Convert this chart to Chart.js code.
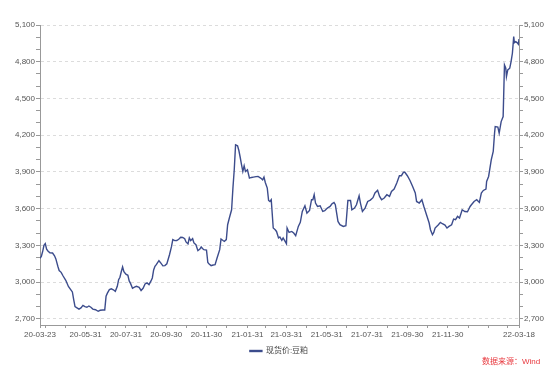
<!DOCTYPE html>
<html>
<head>
<meta charset="utf-8">
<script src="https://cdn.jsdelivr.net/npm/chart.js@4.4.0/dist/chart.umd.min.js"></script>
<style>
  html, body { margin: 0; padding: 0; background: #fff; }
  #wrap { position: relative; width: 558px; height: 374px; }
  #src { position: absolute; left: 482px; top: 356px; font: 8px 'Liberation Sans', 'Noto Sans CJK SC', sans-serif; color: #e8373d; line-height: 11px; white-space: nowrap; }
</style>
</head>
<body>
<div id="wrap">
  <canvas id="myChart" width="558" height="374"></canvas>
  <div id="src">数据来源：Wind</div>
</div>
<script>
// 现货价:豆粕 (yy-mm-dd, 元/吨)
const dates = [
  '20-03-23','20-03-25','20-03-27','20-03-29','20-03-31','20-04-02','20-04-04','20-04-07','20-04-11','20-04-14',
  '20-04-16','20-04-19','20-04-21','20-04-24','20-04-27','20-05-01','20-05-05','20-05-09','20-05-11','20-05-13',
  '20-05-15','20-05-18','20-05-21','20-05-24','20-05-27','20-05-30','20-06-02','20-06-05','20-06-08','20-06-11',
  '20-06-15','20-06-19','20-06-22','20-06-26','20-06-29','20-07-01','20-07-03','20-07-06','20-07-09','20-07-12',
  '20-07-15','20-07-18','20-07-20','20-07-22','20-07-24','20-07-26','20-07-28','20-07-31','20-08-03','20-08-05',
  '20-08-07','20-08-10','20-08-13','20-08-16','20-08-20','20-08-23','20-08-26','20-08-29','20-09-01','20-09-04',
  '20-09-07','20-09-09','20-09-11','20-09-13','20-09-15','20-09-17','20-09-19','20-09-22','20-09-25','20-09-28',
  '20-10-01','20-10-05','20-10-08','20-10-10','20-10-13','20-10-16','20-10-19','20-10-22','20-10-25','20-10-28',
  '20-10-30','20-11-02','20-11-04','20-11-06','20-11-09','20-11-11','20-11-14','20-11-17','20-11-20','20-11-22',
  '20-11-24','20-11-26','20-11-30','20-12-02','20-12-04','20-12-07','20-12-10','20-12-13','20-12-16','20-12-20',
  '20-12-22','20-12-25','20-12-27','20-12-30','21-01-01','21-01-04','21-01-07','21-01-09','21-01-11','21-01-13',
  '21-01-16','21-01-18','21-01-20','21-01-22','21-01-24','21-01-26','21-01-28','21-01-31','21-02-03','21-02-06',
  '21-02-09','21-02-13','21-02-16','21-02-20','21-02-23','21-02-25','21-02-27','21-03-02','21-03-04','21-03-06',
  '21-03-08','21-03-11','21-03-14','21-03-16','21-03-19','21-03-21','21-03-24','21-03-26','21-03-29','21-03-31',
  '21-04-01','21-04-04','21-04-08','21-04-11','21-04-14','21-04-18','21-04-21','21-04-24','21-04-28','21-05-01',
  '21-05-05','21-05-08','21-05-10','21-05-12','21-05-14','21-05-17','21-05-21','21-05-25','21-05-28','21-06-01',
  '21-06-05','21-06-08','21-06-11','21-06-13','21-06-15','21-06-17','21-06-20','21-06-25','21-06-29','21-07-02',
  '21-07-06','21-07-08','21-07-12','21-07-15','21-07-19','21-07-21','21-07-24','21-07-28','21-08-01','21-08-05',
  '21-08-09','21-08-12','21-08-16','21-08-19','21-08-22','21-08-26','21-08-30','21-09-03','21-09-06','21-09-10',
  '21-09-14','21-09-18','21-09-21','21-09-24','21-09-26','21-09-30','21-10-04','21-10-08','21-10-12','21-10-14',
  '21-10-18','21-10-22','21-10-25','21-10-29','21-11-02','21-11-04','21-11-07','21-11-09','21-11-11','21-11-16',
  '21-11-19','21-11-22','21-11-26','21-11-29','21-12-02','21-12-06','21-12-09','21-12-12','21-12-15','21-12-18',
  '21-12-22','21-12-26','21-12-30','22-01-03','22-01-05','22-01-09','22-01-13','22-01-17','22-01-20','22-01-23',
  '22-01-27','22-01-28','22-01-31','22-02-04','22-02-07','22-02-09','22-02-10','22-02-14','22-02-16','22-02-19',
  '22-02-22','22-02-24','22-02-26','22-02-27','22-03-01','22-03-04','22-03-06','22-03-08','22-03-10','22-03-11',
  '22-03-13','22-03-15','22-03-17','22-03-18'
];
const prices = [
  3195,3210,3250,3300,3314,3270,3255,3240,3238,3215,
  3190,3130,3095,3080,3050,3015,2965,2935,2920,2857,
  2800,2790,2780,2790,2810,2800,2795,2805,2795,2780,
  2775,2762,2770,2772,2772,2885,2910,2939,2945,2938,
  2925,2966,3020,3040,3085,3124,3085,3065,3056,3010,
  2990,2950,2960,2966,2958,2932,2950,2985,2994,2980,
  3010,3034,3100,3129,3143,3160,3175,3155,3133,3135,
  3150,3224,3290,3347,3339,3340,3350,3366,3365,3355,
  3328,3312,3361,3339,3355,3320,3306,3257,3270,3287,
  3275,3265,3262,3160,3148,3135,3140,3143,3197,3265,
  3352,3340,3333,3347,3469,3532,3591,3768,3918,4121,
  4113,4075,4020,3960,3904,3950,3904,3918,3850,3855,
  3858,3862,3863,3850,3836,3858,3814,3768,3667,3659,
  3673,3442,3428,3414,3361,3369,3341,3361,3333,3314,
  3442,3406,3414,3401,3379,3455,3488,3577,3624,3564,
  3586,3673,3673,3714,3646,3618,3624,3577,3583,3605,
  3618,3640,3651,3632,3564,3496,3469,3455,3461,3667,
  3667,3591,3605,3632,3705,3646,3577,3605,3659,3670,
  3690,3728,3750,3700,3673,3687,3714,3700,3741,3760,
  3809,3869,3869,3896,3899,3869,3830,3781,3728,3659,
  3646,3673,3618,3551,3483,3428,3387,3406,3442,3469,
  3488,3477,3466,3442,3455,3469,3515,3510,3537,3524,
  3591,3577,3575,3618,3632,3659,3673,3651,3728,3749,
  3760,3822,3863,3999,4067,4217,4271,4266,4217,4311,
  4352,4774,4747,4678,4733,4747,4801,4869,5005,4956,
  4964,4956,4943,4985
];
const yTicks = [2700,2800,2900,3000,3100,3200,3300,3400,3500,3600,3700,3800,3900,4000,4100,4200,4300,4400,4500,4600,4700,4800,4900,5000,5100];
const xTicks = ['20-03-23','20-03-31','20-04-30','20-05-31','20-06-30','20-07-31','20-08-31','20-09-30','20-10-31','20-11-30',
  '20-12-31','21-01-31','21-02-28','21-03-31','21-04-30','21-05-31','21-06-30','21-07-31','21-08-31','21-09-30',
  '21-10-31','21-11-30','21-12-31','22-01-31','22-02-28','22-03-18'];
const xLabels = ['20-03-23','20-05-31','20-07-31','20-09-30','20-11-30','21-01-31','21-03-31','21-05-31','21-07-31','21-09-30','21-11-30','22-03-18'];

const start = Date.UTC(2020, 2, 23);
function dayOf(s) {
  const p = s.split('-').map(Number);
  return Math.round((Date.UTC(2000 + p[0], p[1] - 1, p[2]) - start) / 86400000);
}
const points = dates.map((d, i) => ({ x: dayOf(d), y: prices[i] }));
const labelByDay = {};
xLabels.forEach(d => { labelByDay[dayOf(d)] = d; });

Chart.defaults.font.family = "'Liberation Sans', 'Noto Sans CJK SC', sans-serif";
Chart.defaults.font.size = 8;
Chart.defaults.color = '#555';

const lineColor = '#3c4c8c';
const yAxis = (pos) => ({
  type: 'linear',
  position: pos,
  min: 2650,
  max: 5100,
  afterBuildTicks: s => { s.ticks = yTicks.map(v => ({ value: v })); },
  afterFit: s => { s.width = pos === 'left' ? 40 : 39; },
  ticks: {
    autoSkip: false,
    padding: 1,
    callback: v => (v % 300 === 0 ? v.toLocaleString('en-US') : '')
  },
  grid: {
    drawOnChartArea: pos === 'left',
    color: c => (c.tick && c.tick.value % 300 === 0 ? '#dcdcdc' : 'rgba(0,0,0,0)'),
    tickColor: '#999',
    tickLength: 4,
    tickBorderDash: []
  },
  border: { color: '#999', dash: [3, 3] }
});

new Chart(document.getElementById('myChart'), {
  type: 'line',
  data: {
    datasets: [{
      label: '现货价:豆粕',
      data: points,
      borderColor: lineColor,
      backgroundColor: lineColor,
      borderWidth: 1.4,
      pointRadius: 0,
      tension: 0,
      yAxisID: 'y'
    }]
  },
  options: {
    responsive: false,
    animation: false,
    layout: { padding: { top: 25, bottom: 9, left: 0, right: 0 } },
    plugins: {
      legend: {
        position: 'bottom',
        labels: { boxWidth: 12, boxHeight: 1, padding: 6, color: '#444' }
      },
      tooltip: { enabled: false }
    },
    scales: {
      x: {
        type: 'linear',
        min: 0,
        max: dayOf('22-03-18'),
        afterBuildTicks: s => { s.ticks = xTicks.map(d => ({ value: dayOf(d) })); },
        afterFit: s => { s.height = 16; },
        ticks: {
          autoSkip: false,
          maxRotation: 0,
          minRotation: 0,
          padding: 2,
          callback: v => labelByDay[v] || ''
        },
        grid: { drawOnChartArea: false, tickColor: '#999', tickLength: 3 },
        border: { color: '#999' }
      },
      y: yAxis('left'),
      y2: yAxis('right')
    }
  }
});
</script>
</body>
</html>
